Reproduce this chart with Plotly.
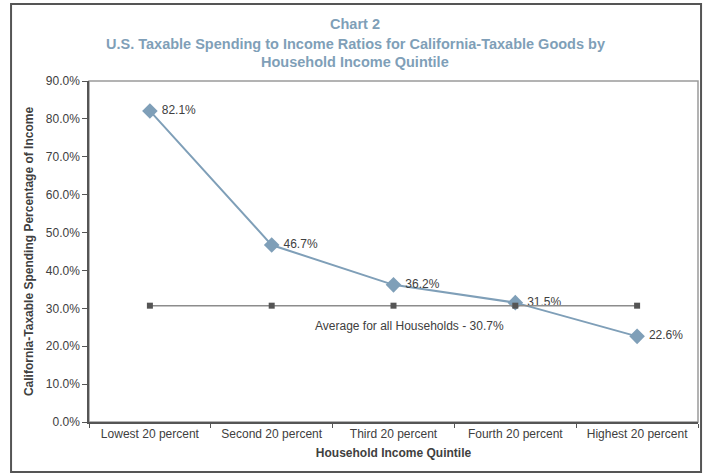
import plotly.graph_objects as go

categories = ["Lowest 20 percent", "Second 20 percent", "Third 20 percent",
              "Fourth 20 percent", "Highest 20 percent"]
ratios = [82.1, 46.7, 36.2, 31.5, 22.6]
average = [30.7, 30.7, 30.7, 30.7, 30.7]
y_ticks = [0, 10, 20, 30, 40, 50, 60, 70, 80, 90]
y_tick_labels = [f"{v:.1f}%" for v in y_ticks]
avg_label = "Average for all Households - 30.7%"
title_lines = ["Chart 2",
               "U.S. Taxable Spending to Income Ratios for California-Taxable Goods by",
               "Household Income Quintile"]

FONT = "Liberation Sans, Arial, sans-serif"
TXT = "#404040"
TITLE_C = "#7f9fb8"

fig = go.Figure()
fig.add_trace(go.Scatter(
    x=categories, y=ratios, mode="lines+markers+text",
    line=dict(color="#7f9fb8", width=2),
    marker=dict(symbol="diamond", size=12, color="#7f9fb8"),
    text=[f" {v:.1f}%" for v in ratios], textposition="middle right",
    textfont=dict(family=FONT, size=12, color=TXT),
    cliponaxis=False, showlegend=False))
fig.add_trace(go.Scatter(
    x=categories, y=average, mode="lines+markers",
    line=dict(color="#8c8c8c", width=1.5),
    marker=dict(symbol="square", size=6, color="#555555"),
    showlegend=False))

fig.add_annotation(x=2.13, y=25.3, xref="x", yref="y", text=avg_label,
                   showarrow=False, font=dict(family=FONT, size=12, color=TXT))

for line, ypos in zip(title_lines, [1.167, 1.1085, 1.0557]):
    fig.add_annotation(x=0.437, y=ypos, xref="paper", yref="paper",
                       text=f"<b>{line}</b>", showarrow=False,
                       xanchor="center", yanchor="middle",
                       font=dict(family=FONT, size=14.5, color=TITLE_C))

# plot area box
fig.add_shape(type="rect", xref="paper", yref="paper", x0=0, x1=1, y0=0, y1=1,
              line=dict(color="#9a9a9a", width=1.5), layer="below")
# outer frame
fig.add_shape(type="rect", xref="paper", yref="paper",
              x0=-0.128, x1=1.005, y0=-0.1466, y1=1.2258,
              line=dict(color="#555555", width=2))

fig.update_layout(
    width=704, height=476,
    margin=dict(l=89, r=6, t=81, b=54),
    paper_bgcolor="white", plot_bgcolor="white",
    font=dict(family=FONT, size=12, color=TXT),
    xaxis=dict(
        type="category", range=[-0.5, 4.5], showgrid=False,
        showline=True, linecolor="#555555", linewidth=1.5,
        ticks="outside", ticklen=4, tickcolor="#555555",
        tickson="boundaries",
        tickfont=dict(family=FONT, size=12, color=TXT),
        title=dict(text="<b>Household Income Quintile</b>", standoff=8,
                   font=dict(family=FONT, size=12, color=TXT))),
    yaxis=dict(
        range=[0, 90], tickmode="array", tickvals=y_ticks, ticktext=y_tick_labels,
        showgrid=False, zeroline=False,
        showline=True, linecolor="#555555", linewidth=1.5,
        ticks="outside", ticklen=5, tickcolor="#555555",
        tickfont=dict(family=FONT, size=12, color=TXT),
        title=dict(text="<b>California-Taxable Spending Percentage of Income</b>",
                   standoff=10, font=dict(family=FONT, size=12, color=TXT))),
)

fig.write_html("out.html")
